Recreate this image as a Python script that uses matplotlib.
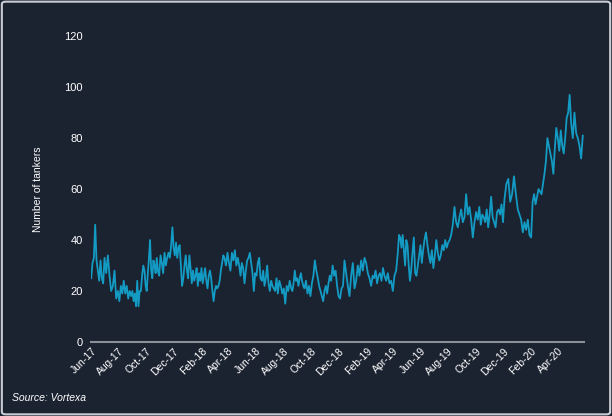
import numpy as np
import pandas as pd
import matplotlib
matplotlib.use("Agg")
import matplotlib.pyplot as plt
import matplotlib.dates as mdates
from matplotlib.patches import FancyBboxPatch

plt.rcParams["font.family"] = ["Liberation Sans", "DejaVu Sans"]

# tankers counted in slices (several points per slice)
vals_2017 = [
    [25, 31, 33, 46, 32, 28, 24, 32, 25, 23],
    [33, 27, 34, 26, 20, 22, 28, 17],
    [20, 16, 22, 19, 24, 19, 22, 17, 20],
    [18, 20, 16, 19, 14, 24, 14, 20, 20, 26, 30],
    [28, 22, 20, 27, 33, 40, 28, 25, 32, 30, 27, 33],
    [28, 26, 34, 31, 27, 35, 30, 33, 35, 33],
    [38, 45, 37, 34, 39, 33, 37, 38, 30, 22, 25],
]
vals_2018 = [
    [30, 34, 28, 25, 34, 29, 23, 28, 24, 26, 29],
    [22, 27, 24, 29, 23, 26, 29, 24, 21, 26, 28],
    [25, 20, 16, 20, 22, 21, 22, 24, 28, 31, 34],
    [33, 30, 35, 31, 28, 35, 32, 36, 30],
    [33, 30, 26, 31, 29, 23, 28, 32, 33, 35],
    [31, 27, 20, 27, 26, 31, 33, 25, 24, 28],
    [22, 25, 30, 23, 20, 24, 22, 21, 20, 25],
    [19, 24, 22, 19, 21, 15, 22, 20, 24],
    [21, 20, 23, 28, 24, 25, 22, 25, 27, 24, 22],
    [21, 24, 19, 22, 18, 23, 26, 32, 28],
    [25, 22, 20, 18, 16, 20, 22, 19, 23, 26],
    [24, 30, 26, 28, 22, 18, 17, 21, 22],
]
vals_2019 = [
    [32, 27, 22, 18, 26, 31, 21, 24],
    [30, 26, 32, 28, 33, 31, 27, 25],
    [22, 26, 25, 28, 23, 26, 27, 24, 29],
    [26, 24, 27, 23, 24, 20, 26, 28],
    [35, 42, 41, 37, 42, 36, 30, 40, 38, 30, 24],
    [28, 35, 41, 27, 26, 30, 34, 38, 31, 36],
    [40, 43, 38, 34, 31, 36, 29, 34, 40],
    [35, 32, 34, 38, 36, 40, 37, 39, 40],
    [42, 46, 53, 47, 45, 49, 52, 47],
    [49, 58, 50, 53, 48, 41, 47, 51],
    [48, 53, 46, 50, 49, 47, 52, 45, 50],
    [57, 49, 47, 45, 51, 52, 50, 54, 47],
]
vals_2020 = [
    [56, 62, 64, 55, 58, 65, 58],
    [52, 50, 48, 43, 47, 44, 48, 42],
    [41, 55, 58, 54, 57, 60, 59, 58, 62],
    [66, 71, 80, 77, 74, 71, 66, 76, 84],
    [80, 75, 83, 77, 74, 80, 88, 90, 97],
    [86, 80, 90, 82, 80, 77, 72, 81],
]

start = pd.Timestamp("2017-06-01")
end = pd.Timestamp("2020-05-29")
slices = vals_2017 + vals_2018 + vals_2019 + vals_2020

# each slice was read as an equal-width strip of the x axis
n_slices = len(slices)
edges = pd.date_range(start, end, periods=n_slices + 1)
dates, values = [], []
for k, vals in enumerate(slices):
    span = edges[k + 1] - edges[k]
    n = len(vals)
    for i, v in enumerate(vals):
        dates.append(edges[k] + span * (i / n))
        values.append(v)

bg = "#1b2230"
line_c = "#139bc4"

fig = plt.figure(figsize=(6.12, 4.16), dpi=100, facecolor=bg)
ax = fig.add_axes([0.149, 0.178, 0.806, 0.735], facecolor=bg)

ax.plot(dates, values, color=line_c, lw=1.3)

ax.set_ylim(0, 120)
ax.set_yticks(range(0, 121, 20))
ax.set_xlim(start, end)
ax.xaxis.set_major_locator(mdates.MonthLocator(bymonth=[2, 4, 6, 8, 10, 12]))
ax.xaxis.set_major_formatter(mdates.DateFormatter("%b-%y"))

for s in ["top", "right", "left"]:
    ax.spines[s].set_visible(False)
ax.spines["bottom"].set_color("#8b9099")
ax.spines["bottom"].set_linewidth(1.5)
ax.tick_params(length=0, colors="white", labelsize=7.5)
ax.tick_params(axis="y", pad=6, labelsize=8)
ax.tick_params(axis="x", pad=3)
for lab in ax.get_xticklabels():
    lab.set_rotation(45)
    lab.set_ha("right")
    lab.set_rotation_mode("anchor")

ax.set_ylabel("Number of tankers", color="white", fontsize=7.5, labelpad=15)

fig.text(0.02, 0.035, "Source: Vortexa", color="white", fontsize=7.5,
         style="italic")

border = FancyBboxPatch((0.003, 0.004), 0.994, 0.992,
                        boxstyle="round,pad=0,rounding_size=0.006",
                        transform=fig.transFigure, fill=False,
                        edgecolor="#c9cdd3", lw=1.5)
fig.patches.append(border)

fig.savefig("out.png", dpi=100, facecolor=bg)
